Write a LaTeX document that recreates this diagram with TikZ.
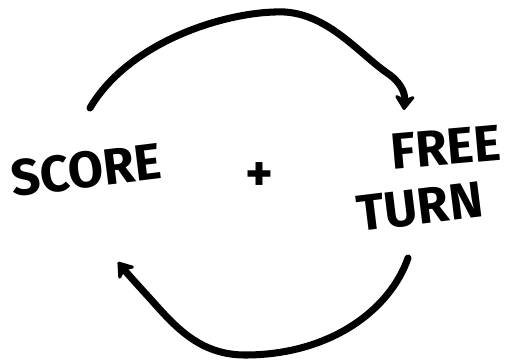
\documentclass[tikz,border=0pt]{standalone}
\usepackage{fontspec}
\usepackage{tikz}
\usetikzlibrary{arrows.meta,calc}
\newfontfamily\sketchfont{Fira Sans}

\begin{document}
\begin{tikzpicture}[x=0.02cm, y=-0.02cm,
  word/.style={font=\sketchfont\bfseries\fontsize{29}{29}\selectfont, inner sep=0pt},
  loop/.style={line width=4pt, line cap=round, -{Stealth[length=10pt,width=14pt,round]}}]
\useasboundingbox (0,0) rectangle (519,359);
\node[word, rotate=7] (score) at (86,170) {SCORE};
\node[word, rotate=5] (free) at (446,147) {FREE};
\node[word, rotate=7] (turn) at (420,207) {TURN};
\node[font=\sketchfont\bfseries\fontsize{30}{30}\selectfont, inner sep=0pt] (plus) at (259,177) {+};
\coordinate (topstart) at (90,108);
\coordinate (topend) at (404,110);
\coordinate (botstart) at (408,258);
\coordinate (botend) at (118,262);
% score -> free turn
\draw[loop] (topstart) .. controls (130,40) and (230,10) .. (285,12)
  .. controls (330,15) and (360,55) .. (390,75)
  .. controls (403,85) and (405,95) .. (topend);
% free turn -> score
\draw[loop] (botstart) .. controls (390,310) and (330,355) .. (245,355)
  .. controls (195,355) and (170,320) .. (145,293)
  .. controls (135,282) and (126,272) .. (botend);
\end{tikzpicture}
\end{document}
